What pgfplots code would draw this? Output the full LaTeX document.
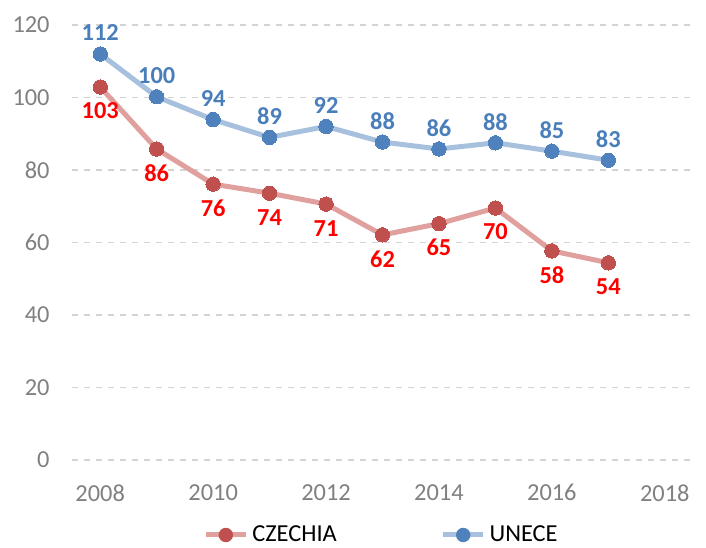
\documentclass[border=0pt]{standalone}
\usepackage{pgfplots}
\pgfplotsset{compat=1.18}
\usepackage{fontspec}
\setmainfont{Carlito}
\definecolor{czmark}{HTML}{C0504D}
\definecolor{czline}{HTML}{DFA09E}
\definecolor{czlab}{HTML}{FF0000}
\definecolor{unmark}{HTML}{4F81BD}
\definecolor{unline}{HTML}{A7C0DE}
\definecolor{unlab}{HTML}{4A7EBB}
\definecolor{ticktext}{HTML}{808080}
\definecolor{gridc}{HTML}{D4D4D4}
\begin{document}
\begin{tikzpicture}
\path[use as bounding box] (-36pt,-43.5pt) rectangle (317pt,230pt);
\begin{axis}[
  at={(0,0)}, anchor=south west,
  scale only axis, width=310.5pt, height=217.5pt,
  xmin=2007.5, xmax=2018.5, ymin=0, ymax=120,
  xtick={2008,2010,...,2018}, ytick={0,20,...,120},
  axis line style={draw=none}, tick style={draw=none},
  ymajorgrids, grid style={gridc, dashed, line width=0.6pt},
  /pgf/number format/1000 sep={},
  /pgf/number format/assume math mode=true,
  ticklabel style={font=\fontsize{12.2}{14}\selectfont, text=ticktext},
  yticklabel style={inner sep=0pt, anchor=east, xshift=-11pt},
  xticklabel style={inner sep=0pt, anchor=north, yshift=-12pt},
  clip=false,
  legend style={at={(0.5,-0.1724)}, anchor=center, draw=none, fill=none,
    legend columns=2, font=\fontsize{12.2}{14}\selectfont,
    /tikz/every even column/.append style={column sep=50pt}},
  legend image code/.code={
    \draw[#1, mark=none] (0cm,0cm) -- (0.7cm,0cm);
    \draw[#1, draw opacity=0] plot coordinates {(0.35cm,0cm)};
  },
]
\addplot[czline, line width=2.5pt, mark=*, mark size=3.6pt,
  mark options={fill=czmark, draw=czmark, line width=0pt},
  nodes near coords, point meta=explicit symbolic,
  nodes near coords style={font=\bfseries\fontsize{12.2}{14}\selectfont, text=czlab, anchor=center, yshift=-12pt}]
  table[meta=l] {
x y l
2008 102.9 103
2009 85.8 86
2010 76.1 76
2011 73.6 74
2012 70.6 71
2013 62.1 62
2014 65.2 65
2015 69.5 70
2016 57.7 58
2017 54.4 54
};
\addlegendentry{CZECHIA}
\addplot[unline, line width=2.5pt, mark=*, mark size=3.6pt,
  mark options={fill=unmark, draw=unmark, line width=0pt},
  nodes near coords, point meta=explicit symbolic,
  nodes near coords style={font=\bfseries\fontsize{12.2}{14}\selectfont, text=unlab, anchor=center, yshift=10.5pt}]
  table[meta=l] {
x y l
2008 112.0 112
2009 100.2 100
2010 93.9 94
2011 89.0 89
2012 92.0 92
2013 87.7 88
2014 85.8 86
2015 87.5 88
2016 85.2 85
2017 82.7 83
};
\addlegendentry{UNECE}
\end{axis}
\end{tikzpicture}
\end{document}
